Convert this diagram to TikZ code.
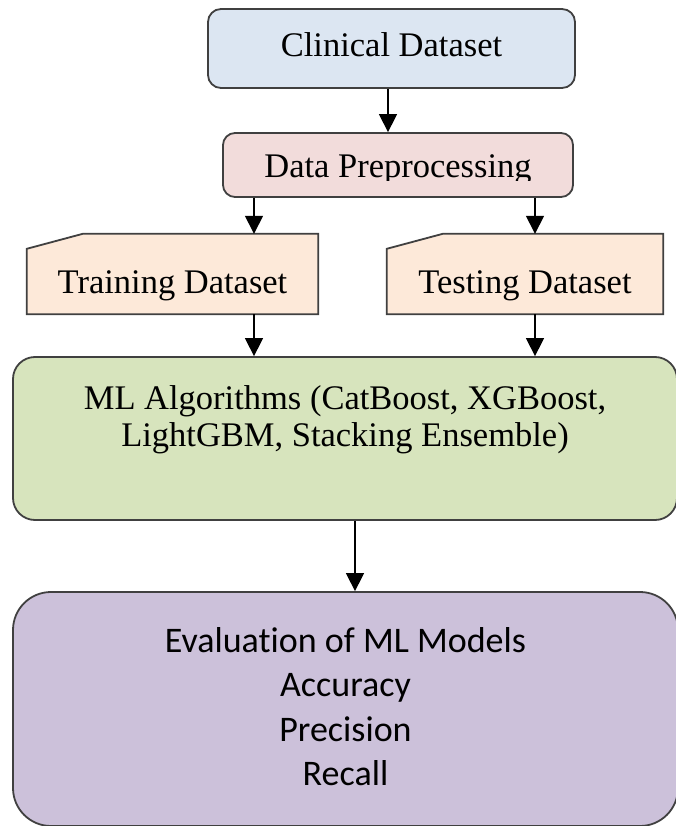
\documentclass[tikz,border=0pt]{standalone}
\usepackage{fontspec}
\setmainfont{Liberation Serif}
\newfontfamily\labelsans[Ligatures=NoCommon]{Carlito}
\usetikzlibrary{arrows.meta, backgrounds}

\definecolor{boxline}{HTML}{404040}
\definecolor{clinicalfill}{HTML}{DCE6F2}
\definecolor{prepfill}{HTML}{F2DCDB}
\definecolor{datafill}{HTML}{FDE9D9}
\definecolor{mlfill}{HTML}{D7E4BD}
\definecolor{evalfill}{HTML}{CCC1DA}

\newcommand{\serifbig}{\fontsize{34.5}{37}\selectfont}
\newcommand{\sansbig}{\labelsans\fontsize{36}{44.5}\selectfont}

\begin{document}
\begin{tikzpicture}[x=1pt, y=-1pt,
    box/.style={draw=boxline, line width=1.8pt, rounded corners=#1, inner sep=2pt},
    box/.default=12pt,
    datain/.style={inner sep=2pt, minimum height=80pt, text height=38pt, text depth=0pt, font=\serifbig},
    cutcorner/.style={draw=boxline, line width=1.8pt, fill=datafill},
    flow/.style={line width=1.5pt, -{Triangle[width=18pt, length=18pt]}}]
    \useasboundingbox (0, 0) rectangle (676, 826);

    % columns the arrows run along
    \coordinate (midcol) at (388, 0);
    \coordinate (leftcol) at (254, 0);
    \coordinate (rightcol) at (535, 0);
    \coordinate (lowcol) at (355, 0);

    \node[box=13pt, fill=clinicalfill, minimum width=367pt, minimum height=79pt,
        text height=17pt, text depth=0pt, font=\serifbig] (clinical) at (391.5, 48.5) {Clinical Dataset};

    \node[box, fill=prepfill, minimum width=350pt, minimum height=64pt] (prep) at (398, 165) {};
    \begin{scope}
        % text runs past the bottom of its frame and is cut off
        \clip (prep.north west) rectangle ([yshift=17pt]prep.south east);
        \node[font=\serifbig, anchor=base, inner sep=0pt] (preptext) at ([yshift=-13pt]prep.center) {Data Preprocessing};
    \end{scope}

    \node[datain, minimum width=291pt] (train) at (172.5, 274) {Training Dataset};
    \node[datain, minimum width=276pt] (test) at (525, 274) {Testing Dataset};
    % input cards with the top left corner cut off
    \begin{scope}[on background layer]
        \foreach \n in {train, test}
            \draw[cutcorner] (\n.south west) -- ([yshift=-15pt]\n.north west) -- ([xshift=56pt]\n.north west)
                -- (\n.north east) -- (\n.south east) -- cycle;
    \end{scope}

    \node[box=22pt, fill=mlfill, minimum width=664pt, minimum height=163pt] (ml) at (345, 438.5) {};
    \node[font=\serifbig, align=center, anchor=north, inner sep=0pt] (mltext) at ([yshift=-29pt]ml.north)
        {ML Algorithms (CatBoost, XGBoost,\\LightGBM, Stacking Ensemble)};

    \node[box=38pt, fill=evalfill, minimum width=665pt, minimum height=234pt] (eval) at (345.5, 709) {};
    \node[font=\sansbig, align=center, anchor=north, inner sep=0pt] (evaltext) at ([yshift=-36pt]eval.north)
        {Evaluation of ML Models\\Accuracy\\Precision\\Recall};

    \draw[flow] (clinical.south -| midcol) -- (prep.north -| midcol);
    \draw[flow] (prep.south -| leftcol) -- (train.north -| leftcol);
    \draw[flow] (prep.south -| rightcol) -- (test.north -| rightcol);
    \draw[flow] (train.south -| leftcol) -- (ml.north -| leftcol);
    \draw[flow] (test.south -| rightcol) -- (ml.north -| rightcol);
    \draw[flow] (ml.south -| lowcol) -- (eval.north -| lowcol);
\end{tikzpicture}
\end{document}
